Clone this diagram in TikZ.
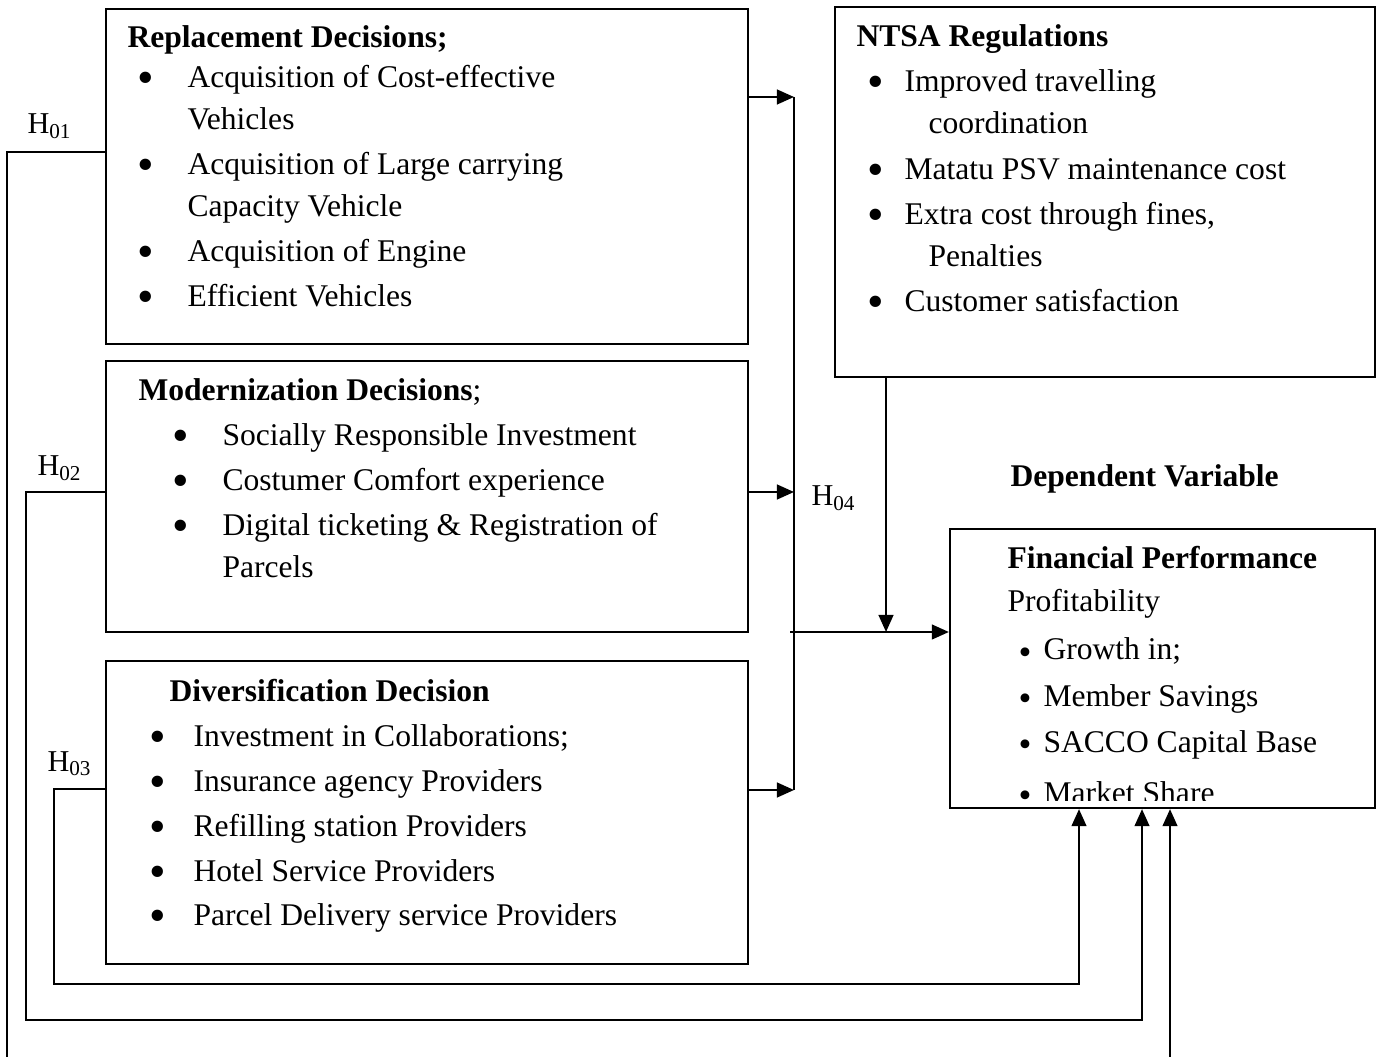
\documentclass[tikz,border=0pt]{standalone}
\usepackage{fontspec}
\setmainfont{Liberation Serif}
\usetikzlibrary{positioning,arrows.meta,fit}
\tikzset{
  frame/.style = {draw, line width=0.85pt, inner sep=0pt},
  wire/.style  = {line width=0.85pt},
  arr/.style   = {wire, -{Triangle[length=6.5pt,width=5.6pt]}},
  item/.style  = {anchor=base west, inner sep=0pt, font=\fontsize{12}{14}\selectfont},
  head/.style  = {item, font=\fontsize{12}{14}\selectfont\bfseries},
  bul/.style   = {anchor=base, inner sep=0pt, font=\fontsize{18}{14}\selectfont},
  sbul/.style  = {bul, font=\fontsize{14}{14}\selectfont},
  hyp/.style   = {item, font=\fontsize{11.5}{14}\selectfont},
}

\begin{document}
\begin{tikzpicture}[x=0.38pt, y=-0.38pt]
  \useasboundingbox (0,0) rectangle (1383,1057);
  \clip (0,0) rectangle (1383,1057);

  % boxes
  \node[frame, fit={(106,9) (748,344)}]    (repl) {};
  \node[frame, fit={(106,361) (748,632)}]  (modn) {};
  \node[frame, fit={(106,661) (748,964)}]  (divr) {};
  \node[frame, fit={(835,7) (1375,377)}]   (ntsa) {};
  \node[frame, fit={(950,529) (1375,808)}] (perf) {};

  % replacement decisions
  \node[head] (replh) at (127,48) {Replacement Decisions;};
  \foreach \y in {88,175,262,307} \node[bul] (rb\y) at (146,\y+6) {\textbullet};
  \foreach \y/\t in {88/Acquisition of Cost-effective, 130/Vehicles,
      175/Acquisition of Large carrying, 217/Capacity Vehicle,
      262/Acquisition of Engine, 307/Efficient Vehicles}
    \node[item] (ri\y) at (187,\y) {\t};

  % modernization decisions
  \node[item] (modnh) at (138,401) {\textbf{Modernization Decisions};};
  \foreach \y in {446,491,536} \node[bul] (mb\y) at (181,\y+6) {\textbullet};
  \foreach \y/\t in {446/Socially Responsible Investment,
      491/Costumer Comfort experience,
      536/Digital ticketing \& Registration of, 578/Parcels}
    \node[item] (mi\y) at (222,\y) {\t};

  % diversification decision
  \node[head] (divrh) at (169,701) {Diversification Decision};
  \foreach \y in {746,791,836,881,925} \node[bul] (db\y) at (158,\y+6) {\textbullet};
  \foreach \y/\t in {746/Investment in Collaborations;,
      791/Insurance agency Providers, 836/Refilling station Providers,
      881/Hotel Service Providers, 925/Parcel Delivery service Providers}
    \node[item] (di\y) at (193,\y) {\t};

  % NTSA regulations
  \node[head] (ntsah) at (856,47) {NTSA Regulations};
  \foreach \y in {92,180,225,312} \node[bul] (nb\y) at (876,\y+6) {\textbullet};
  \foreach \y/\t in {92/Improved travelling, 180/Matatu PSV maintenance cost,
      225/{Extra cost through fines,}, 312/Customer satisfaction}
    \node[item] (ni\y) at (904,\y) {\t};
  \node[item] (ni134) at (928,134) {coordination};
  \node[item] (ni267) at (928,267) {Penalties};

  % dependent variable
  \node[head] (dep) at (1010,487) {Dependent Variable};
  \node[head] (perfh) at (1007,569) {Financial Performance};
  \node[item] (prof) at (1007,612) {Profitability};
  \begin{scope}
    \clip (950,529) rectangle (1375,800);
    \foreach \y/\t in {660/Growth in;, 706/Member Savings,
        752/SACCO Capital Base, 803/Market Share} {
      \node[sbul] (pb\y) at (1025,\y+4) {\textbullet};
      \node[item] (pi\y) at (1043,\y) {\t};
    }
  \end{scope}

  % hypothesis labels
  \node[hyp] (h1) at (27,134)  {H\textsubscript{01}};
  \node[hyp] (h2) at (37,476)  {H\textsubscript{02}};
  \node[hyp] (h3) at (47,771)  {H\textsubscript{03}};
  \node[hyp] (h4) at (811,506) {H\textsubscript{04}};

  % joining line on the right of the decisions
  \coordinate (b1) at (794,97);
  \coordinate (b2) at (794,492);
  \coordinate (b3) at (794,790);
  \draw[wire] (b1) -- (b3);
  \draw[arr] (b1 -| repl.east) -- (b1);
  \draw[arr] (b2 -| modn.east) -- (b2);
  \draw[arr] (b3 -| divr.east) -- (b3);

  \coordinate (jn) at (790,632);
  \coordinate (nd) at (886,632);
  \draw[arr] (jn) -- (jn -| perf.west);
  \draw[arr] (nd |- ntsa.south) -- (nd);

  % direct paths to financial performance
  \coordinate (f1) at (7,152);  \coordinate (g1) at (1170,1080);
  \coordinate (f2) at (26,492); \coordinate (g2) at (1142,1020);
  \coordinate (f3) at (54,789); \coordinate (g3) at (1079,984);
  \draw[arr] (f1 -| repl.west) -- (f1) |- (g1) -- (g1 |- perf.south);
  \draw[arr] (f2 -| modn.west) -- (f2) |- (g2) -- (g2 |- perf.south);
  \draw[arr] (f3 -| divr.west) -- (f3) |- (g3) -- (g3 |- perf.south);
\end{tikzpicture}
\end{document}
